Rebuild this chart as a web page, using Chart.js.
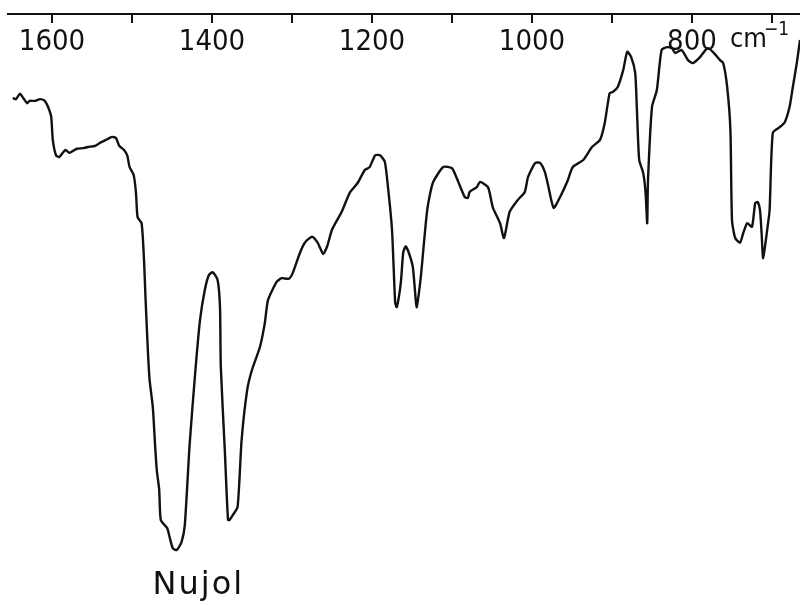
<!DOCTYPE html>
<html>
<head>
<meta charset="utf-8">
<script src="https://cdn.jsdelivr.net/npm/chart.js@4.4.1/dist/chart.umd.min.js"></script>
<style>
  html, body { margin: 0; padding: 0; background: #fff; }
  canvas { display: block; }
</style>
</head>
<body>
<canvas id="spectrum" width="800" height="605"></canvas>
<script>
// IR spectrum (wavenumber in cm-1, transmittance in %)
const wavenumbers = [
  1649, 1645, 1640, 1636, 1631, 1628, 1621, 1615, 1609, 1605,
  1601, 1599, 1595, 1591, 1586, 1583, 1578, 1569, 1561, 1555,
  1546, 1540, 1531, 1525, 1520, 1516, 1510, 1506, 1503, 1498,
  1495, 1493, 1488, 1485, 1483, 1480, 1478, 1474, 1471, 1469,
  1466, 1464, 1456, 1453, 1449, 1444, 1438, 1434, 1428, 1421,
  1415, 1409, 1404, 1399, 1393, 1390, 1389, 1384, 1380, 1378,
  1374, 1368, 1363, 1356, 1350, 1340, 1334, 1330, 1319, 1313,
  1304, 1299, 1290, 1284, 1275, 1268, 1261, 1256, 1250, 1238,
  1228, 1218, 1209, 1203, 1196, 1190, 1184, 1180, 1175, 1171,
  1169, 1164, 1161, 1158, 1154, 1149, 1145, 1144, 1139, 1131,
  1124, 1111, 1100, 1094, 1084, 1080, 1078, 1069, 1065, 1055,
  1049, 1040, 1035, 1028, 1018, 1009, 1005, 996, 990, 984,
  980, 973, 965, 956, 949, 936, 925, 915, 909, 903,
  899, 893, 886, 881, 876, 871, 869, 866, 861, 858,
  856, 855, 850, 844, 838, 831, 825, 821, 813, 805,
  799, 790, 781, 774, 765, 761, 756, 752, 750, 746,
  740, 736, 731, 725, 721, 718, 715, 713, 711, 706,
  703, 699, 690, 684, 678, 674, 669, 665
];
const transmittance = [
  85.8, 85.6, 86.5, 85.8, 84.9, 85.3, 85.3, 85.6, 85.3, 84.3,
  82.6, 78.7, 76.1, 75.8, 76.6, 77.0, 76.5, 77.2, 77.3, 77.5,
  77.7, 78.2, 78.8, 79.2, 79.0, 77.7, 77.0, 76.1, 74.1, 72.8,
  69.7, 65.6, 64.6, 58.4, 51.6, 42.6, 38.1, 33.5, 26.7, 22.8,
  19.5, 14.4, 13.0, 11.5, 9.6, 9.3, 10.7, 13.5, 27.1, 39.3,
  48.2, 53.3, 55.8, 56.3, 55.0, 50.4, 40.3, 26.2, 14.4, 14.4,
  15.2, 16.6, 27.9, 36.4, 39.8, 43.7, 47.7, 51.6, 54.7, 55.3,
  55.2, 56.2, 59.6, 61.3, 62.3, 61.3, 59.4, 60.7, 63.5, 66.5,
  69.7, 71.4, 73.6, 74.1, 76.1, 76.1, 75.0, 70.7, 63.5, 51.1,
  50.4, 54.5, 59.6, 60.7, 59.6, 57.2, 51.1, 50.4, 55.5, 66.8,
  71.4, 74.1, 73.9, 72.2, 69.0, 68.9, 69.9, 70.7, 71.6, 70.7,
  67.3, 64.6, 62.1, 66.5, 68.5, 69.9, 72.4, 74.8, 74.8, 73.3,
  71.1, 67.2, 69.0, 71.6, 74.1, 75.3, 77.5, 78.7, 81.6, 86.6,
  86.8, 87.6, 90.5, 93.6, 92.7, 90.0, 84.3, 75.3, 73.1, 69.7,
  64.6, 71.9, 84.3, 87.1, 93.9, 94.4, 94.2, 93.4, 93.9, 92.2,
  91.7, 92.7, 94.2, 93.6, 92.2, 91.7, 87.6, 80.4, 65.1, 62.1,
  61.3, 62.9, 64.6, 64.0, 68.0, 68.2, 66.8, 62.9, 58.7, 63.5,
  66.8, 79.9, 80.9, 81.7, 84.3, 87.6, 91.7, 95.6
];

// axis: a tick every 100 cm-1, numbers every 200
const tickMarks = [1600, 1500, 1400, 1300, 1200, 1100, 1000, 900, 800, 700];
const tickLabels = ['1600', '1400', '1200', '1000', '800'];

const unitText = 'cm';
const unitPower = '\u22121';
const bandName = 'Nujol';
const bandPos = [1417, 1.9];

const tickFont = "'Liberation Sans Narrow', 'DejaVu Sans Condensed', sans-serif";

const points = wavenumbers.map((w, i) => ({ x: w, y: transmittance[i] }));

const labelsPlugin = {
  id: 'labelsPlugin',
  afterDraw(chart) {
    const ctx = chart.ctx;
    const xs = chart.scales.x;
    const ys = chart.scales.y;
    ctx.save();
    ctx.fillStyle = '#111';
    ctx.textBaseline = 'alphabetic';

    // band label under the big doublet
    ctx.font = "32px 'DejaVu Sans', sans-serif";
    ctx.textAlign = 'center';
    if ('letterSpacing' in ctx) ctx.letterSpacing = '2px';
    ctx.fillText(bandName, xs.getPixelForValue(bandPos[0]), ys.getPixelForValue(bandPos[1]));
    if ('letterSpacing' in ctx) ctx.letterSpacing = '0px';

    // unit next to the 800 label
    const x800 = xs.getPixelForValue(800);
    ctx.textAlign = 'left';
    ctx.font = '27px ' + tickFont;
    ctx.fillText(unitText, x800 + 38, 47);
    ctx.font = '19px ' + tickFont;
    ctx.fillText(unitPower, x800 + 72, 35);
    ctx.restore();
  }
};

new Chart(document.getElementById('spectrum'), {
  type: 'line',
  data: {
    datasets: [{
      data: points,
      borderColor: '#111',
      borderWidth: 2.4,
      pointRadius: 0,
      tension: 0.2,
      fill: false
    }]
  },
  options: {
    responsive: false,
    animation: false,
    parsing: false,
    layout: { padding: { left: 8, right: 0, top: 0, bottom: 0 } },
    plugins: {
      legend: { display: false },
      tooltip: { enabled: false }
    },
    scales: {
      x: {
        type: 'linear',
        position: 'top',
        reverse: true,
        min: 665,
        max: 1655,
        afterFit: (scale) => {
          scale.height = 14;
          scale.paddingLeft = 0;
          scale.paddingRight = 0;
        },
        afterBuildTicks: (scale) => {
          scale.ticks = tickMarks.map(v => ({ value: v }));
        },
        border: { display: true, color: '#111', width: 2 },
        grid: {
          display: true,
          drawOnChartArea: false,
          drawTicks: true,
          tickLength: -9,
          color: '#111',
          lineWidth: 2
        },
        ticks: {
          autoSkip: false,
          maxRotation: 0,
          mirror: true,
          padding: 11,
          color: '#111',
          font: { family: tickFont, size: 29 },
          callback: (v) => tickLabels.includes(String(v)) ? String(v) : ''
        }
      },
      y: {
        display: false,
        min: 0,
        max: 100
      }
    }
  },
  plugins: [labelsPlugin]
});
</script>
</body>
</html>
